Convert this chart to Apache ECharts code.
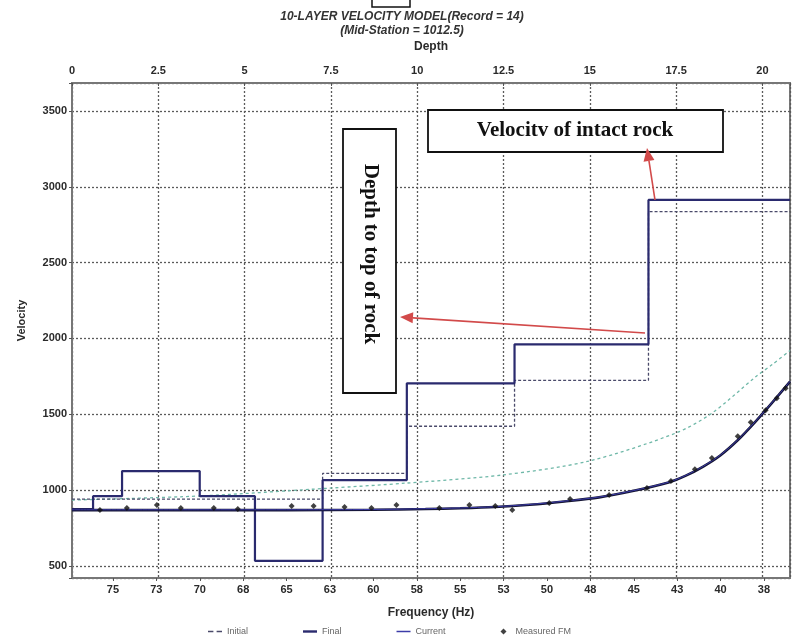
<!DOCTYPE html>
<html><head><meta charset="utf-8">
<script src="https://cdn.jsdelivr.net/npm/echarts@6/dist/echarts.min.js"></script>
<style>html,body{margin:0;padding:0;background:#fff}#c{width:793px;height:641px}</style>
</head><body><div id="c"></div>
<script>
// ---- data ----
const depthMax = 20.8;
const freqMin = 36.0;
const freqMax = 77.36;
const velMin = 420;
const velMax = 3685;
const freqTicks = [75, 72.5, 70, 67.5, 65, 62.5, 60, 57.5, 55, 52.5, 50, 47.5, 45, 42.5, 40, 37.5];

// layered velocity profiles (vs depth)
const finalLayerTops = [0, 0.61, 1.45, 3.70, 5.30, 7.26, 9.70, 12.82, 16.70];
const finalLayerVel  = [875, 960, 1125, 960, 533, 1066, 1704, 1961, 2914];
const initialLayerTops = [0, 7.26, 9.70, 12.82, 16.70];
const initialLayerVel  = [940, 1110, 1421, 1724, 2836];

// dispersion curves (vs frequency)
const finalFreq = [77.36, 70, 65, 60, 57, 55, 53, 51, 49, 47, 45, 43, 42, 41, 40, 39, 38, 37, 36];
const finalVel  = [868, 868, 868, 870, 875, 880, 888, 903, 925, 952, 995, 1050, 1095, 1155, 1230, 1330, 1450, 1580, 1715];
const currentFreq = [77.36, 70, 65, 60, 57, 55, 53, 51, 49, 47, 45, 43, 42, 41, 40, 39, 38, 37, 36];
const currentVel  = [870, 870, 870, 872, 877, 882, 890, 905, 927, 954, 997, 1052, 1097, 1157, 1232, 1332, 1452, 1582, 1717];
const initialFreq = [77.36, 70, 62.5, 58.1, 52.6, 47.6, 42.6, 40.5, 38, 37, 36];
const initialVel  = [934, 961, 1013, 1046, 1099, 1191, 1375, 1507, 1745, 1830, 1921];

// measured fundamental mode
const measFreq = [75.75, 74.20, 72.47, 71.09, 69.19, 67.81, 64.71, 63.44, 61.66, 60.11, 58.67, 56.20, 54.47, 52.98, 52.00, 49.87, 48.67, 46.42, 44.24, 42.86, 41.48, 40.50, 39.01, 38.26, 37.40, 36.76, 36.25];
const measVel  = [868, 882, 901, 882, 882, 875, 895, 895, 888, 882, 901, 882, 901, 895, 868, 914, 941, 967, 1013, 1059, 1138, 1211, 1355, 1447, 1526, 1605, 1671];

// ---- build ----
function stepData(tops, vels) {
  const d = tops.map((t, i) => [t, vels[i]]);
  d.push([depthMax, vels[vels.length - 1]]);
  return d;
}
const zip = (a, b) => a.map((v, i) => [v, b[i]]);

const axisCol = '#777';
const lblFont = { color: '#2a2a2a', fontSize: 11, fontWeight: 'bold', fontFamily: 'Liberation Sans' };
const gridLine = { show: true, lineStyle: { color: '#5a5a5a', type: [2, 2], width: 1.3 } };

function arrow(tail, tip, col) {
  const dx = tip[0] - tail[0], dy = tip[1] - tail[1];
  const L = Math.sqrt(dx * dx + dy * dy), ux = dx / L, uy = dy / L;
  const hl = 13, hw = 5.5;
  const bx = tip[0] - ux * hl, by = tip[1] - uy * hl;
  return [
    { type: 'line', shape: { x1: tail[0], y1: tail[1], x2: bx, y2: by }, style: { stroke: col, lineWidth: 1.6 }, z: 100 },
    { type: 'polygon', shape: { points: [tip, [bx - uy * hw, by + ux * hw], [bx + uy * hw, by - ux * hw]] }, style: { fill: col }, z: 100 }
  ];
}

const chart = echarts.init(document.getElementById('c'), null, { renderer: 'canvas' });
const red = '#d24a4a';
chart.setOption({
  animation: false,
  backgroundColor: '#fff',
  grid: { left: 72, right: 2, top: 83, bottom: 63, show: true, borderColor: axisCol, borderWidth: 2 },
  xAxis: [
    {
      type: 'value', position: 'top', min: 0, max: depthMax, interval: 2.5,
      name: 'Depth', nameLocation: 'middle', nameGap: 30,
      nameTextStyle: { color: '#2a2a2a', fontSize: 12, fontWeight: 'bold', fontFamily: 'Liberation Sans' },
      axisLine: { show: true, lineStyle: { color: axisCol, width: 2 } },
      axisTick: { show: true, inside: true, length: 3, lineStyle: { color: '#555' } },
      axisLabel: Object.assign({ margin: 7, formatter: v => (Math.abs(v / 2.5 - Math.round(v / 2.5)) < 1e-6 ? String(v) : '') }, lblFont),
      splitLine: gridLine
    },
    {
      type: 'value', position: 'bottom', min: freqMin, max: freqMax, inverse: true,
      name: 'Frequency (Hz)', nameLocation: 'middle', nameGap: 29,
      nameTextStyle: { color: '#2a2a2a', fontSize: 12, fontWeight: 'bold', fontFamily: 'Liberation Sans' },
      axisLine: { show: true, lineStyle: { color: axisCol, width: 2 } },
      axisTick: { show: true, length: 3, customValues: freqTicks, lineStyle: { color: '#555' } },
      axisLabel: Object.assign({ margin: 6, customValues: freqTicks, formatter: v => String(Math.round(v)) }, lblFont),
      splitLine: { show: false }
    }
  ],
  yAxis: {
    type: 'value', min: velMin, max: velMax, splitNumber: 7,
    name: 'Velocity', nameLocation: 'middle', nameGap: 45,
    nameTextStyle: { color: '#2a2a2a', fontSize: 11, fontWeight: 'bold', fontFamily: 'Liberation Sans', padding: [0, 0, 0, 20] },
    axisLine: { show: true, lineStyle: { color: axisCol, width: 2 } },
    axisTick: { show: true, length: 3, lineStyle: { color: '#555' } },
    axisLabel: Object.assign({ margin: 5, formatter: v => (v % 500 === 0 ? String(v) : '') }, lblFont),
    splitLine: gridLine
  },
  legend: {
    left: 203, top: 622, itemWidth: 14, itemHeight: 6, itemGap: 55,
    textStyle: { color: '#666', fontSize: 9, fontFamily: 'Liberation Sans' },
    data: [
      { name: 'Initial', icon: 'path://M0,0H5V1.6H0Z M8,0H13V1.6H8Z' },
      { name: 'Final', icon: 'path://M0,0H14V2.4H0Z' },
      { name: 'Current', icon: 'path://M0,0H14V1.5H0Z' },
      { name: 'Measured FM', icon: 'path://M4,0L8,4L4,8L0,4Z', itemStyle: { color: '#111' } }
    ]
  },
  series: [
    { name: 'Initial', type: 'line', xAxisIndex: 0, data: stepData(initialLayerTops, initialLayerVel), step: 'end', symbol: 'none',
      lineStyle: { color: '#4a4a6a', width: 1.3, type: [3, 2] }, itemStyle: { color: '#4a4a6a' }, z: 4 },
    { name: 'Initial', type: 'line', xAxisIndex: 1, data: zip(initialFreq, initialVel), smooth: 0.3, symbol: 'none',
      lineStyle: { color: '#6fb8a8', width: 1.3, type: [3, 3] }, itemStyle: { color: '#6fb8a8' }, z: 3 },
    { name: 'Final', type: 'line', xAxisIndex: 0, data: stepData(finalLayerTops, finalLayerVel), step: 'end', symbol: 'none',
      lineStyle: { color: '#2a2a6e', width: 2.2 }, itemStyle: { color: '#2a2a6e' }, z: 5 },
    { name: 'Final', type: 'line', xAxisIndex: 1, data: zip(finalFreq, finalVel), smooth: 0.3, symbol: 'none',
      lineStyle: { color: '#151535', width: 2.6 }, itemStyle: { color: '#151535' }, z: 6 },
    { name: 'Current', type: 'line', xAxisIndex: 1, data: zip(currentFreq, currentVel), smooth: 0.3, symbol: 'none',
      lineStyle: { color: '#3c3ca8', width: 1 }, itemStyle: { color: '#3c3ca8' }, z: 7 },
    { name: 'Measured FM', type: 'scatter', xAxisIndex: 1, data: zip(measFreq, measVel), symbol: 'diamond', symbolSize: 6,
      itemStyle: { color: '#111' }, z: 8 }
  ],
  graphic: [
    { type: 'text', x: 402, y: 17, style: { text: '10-LAYER VELOCITY MODEL(Record = 14)', font: 'italic bold 12px "Liberation Sans"', fill: '#333', align: 'center', verticalAlign: 'middle' } },
    { type: 'text', x: 402, y: 31, style: { text: '(Mid-Station = 1012.5)', font: 'italic bold 12px "Liberation Sans"', fill: '#333', align: 'center', verticalAlign: 'middle' } },
    { type: 'rect', shape: { x: 372, y: -6, width: 38, height: 13 }, style: { fill: '#fff', stroke: '#111', lineWidth: 1.5 } },
    { type: 'rect', shape: { x: 428, y: 110, width: 295, height: 42 }, style: { fill: '#fff', stroke: '#111', lineWidth: 1.8 }, z: 100 },
    { type: 'text', x: 575, y: 131, style: { text: 'Velocitv of intact rock', font: 'bold 21px "Liberation Serif"', fill: '#111', align: 'center', verticalAlign: 'middle' }, z: 101 },
    { type: 'rect', shape: { x: 343, y: 129, width: 53, height: 264 }, style: { fill: '#fff', stroke: '#111', lineWidth: 1.8 }, z: 100 },
    { type: 'text', x: 370, y: 254, rotation: -Math.PI / 2, style: { text: 'Depth to top of rock', font: 'bold 21px "Liberation Serif"', fill: '#111', align: 'center', verticalAlign: 'middle' }, z: 101 }
  ].concat(arrow([655, 200], [647, 148], red), arrow([645, 333], [400, 317], red))
});
</script>
</body></html>
